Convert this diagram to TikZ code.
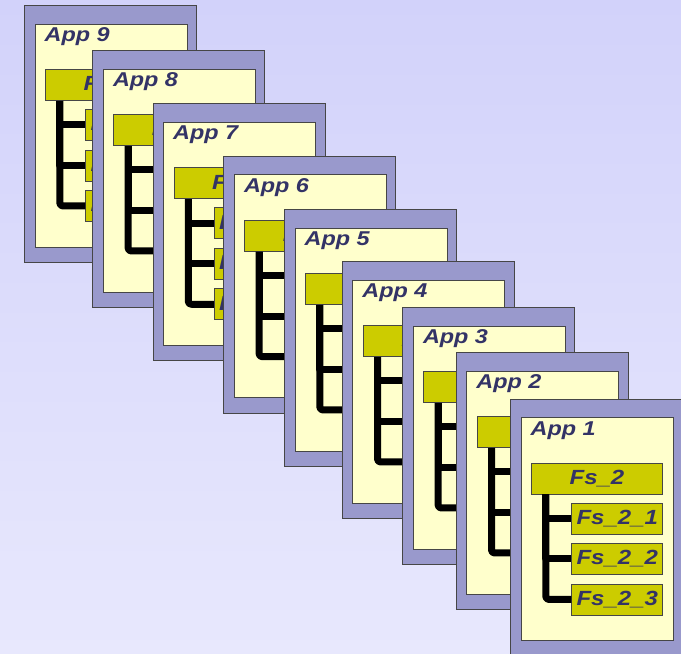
\documentclass[tikz,border=0pt]{standalone}
\usepackage{graphicx}
\usepackage{fontspec}
\setmainfont{Liberation Sans}
\definecolor{bgtop}{RGB}{210,210,250}
\definecolor{bgbottom}{RGB}{232,232,253}
\definecolor{frame}{RGB}{153,153,204}
\definecolor{paper}{RGB}{255,255,204}
\definecolor{olive}{RGB}{204,204,0}
\definecolor{ink}{RGB}{51,51,102}
\definecolor{edge}{RGB}{70,70,70}
% wide bold italic lettering
\newcommand{\wide}[1]{\scalebox{1.17}[1]{#1}}
\tikzset{
  outerbox/.style={draw=edge, line width=1pt, fill=frame, minimum width=172pt, minimum height=257pt, inner sep=0pt, anchor=north west},
  innerbox/.style={draw=edge, line width=1pt, fill=paper, minimum width=152pt, minimum height=223pt, inner sep=0pt, anchor=north west},
  titletext/.style={text=ink, font=\fontsize{20}{24}\selectfont\bfseries\itshape, inner sep=0pt, anchor=base west},
  fsbox/.style={draw=edge, line width=0.9pt, fill=olive, text=ink, font=\fontsize{20.5}{24}\selectfont\bfseries\itshape, minimum height=31pt, inner sep=0pt, anchor=north west},
  tree/.style={draw=black, line width=7pt, line cap=butt, line join=round}
}
% one application card with its file-system tree
\newcommand{\appcard}[4]{%
  \begin{scope}[shift={(#2,#3)}]
    \node[outerbox] (#1o) at (0,0) {};
    \node[innerbox] (#1i) at (10.5,18.5) {};
    \node[titletext] (#1t) at (20.5,36.5) {\wide{App #4}};
    \node[fsbox, minimum width=131pt] (#1f) at (21,64) {\wide{Fs\_2}};
    \path (#1f.south west) ++(14.8,0) coordinate (#1r);
    \node[fsbox, minimum width=91pt] (#1a) at (61.3,104) {\wide{Fs\_2\_1}};
    \node[fsbox, minimum width=91pt] (#1b) at (61.3,144.5) {\wide{Fs\_2\_2}};
    \node[fsbox, minimum width=91pt] (#1c) at (61.3,185) {\wide{Fs\_2\_3}};
    \draw[tree] (#1r) |- (#1a.west);
    \draw[tree] (#1r) |- (#1b.west);
    \draw[tree, rounded corners=3pt] (#1r) |- (#1c.west);
  \end{scope}}
\begin{document}
\begin{tikzpicture}[x=1pt, y=-1pt]
  \useasboundingbox (0,0) rectangle (681,654);
  \shade[top color=bgtop, bottom color=bgbottom] (0,0) rectangle (681,654);
  \begin{scope}
    \clip (0,0) rectangle (681,654);
    \appcard{n}{24}{5}{9}
    \appcard{h}{92.3}{50}{8}
    \appcard{s}{152.5}{103.3}{7}
    \appcard{x}{223.3}{155.7}{6}
    \appcard{v}{284}{209}{5}
    \appcard{q}{341.7}{261}{4}
    \appcard{t}{402.3}{307}{3}
    \appcard{w}{455.7}{352}{2}
    \appcard{e}{510}{398.5}{1}
  \end{scope}
\end{tikzpicture}
\end{document}
